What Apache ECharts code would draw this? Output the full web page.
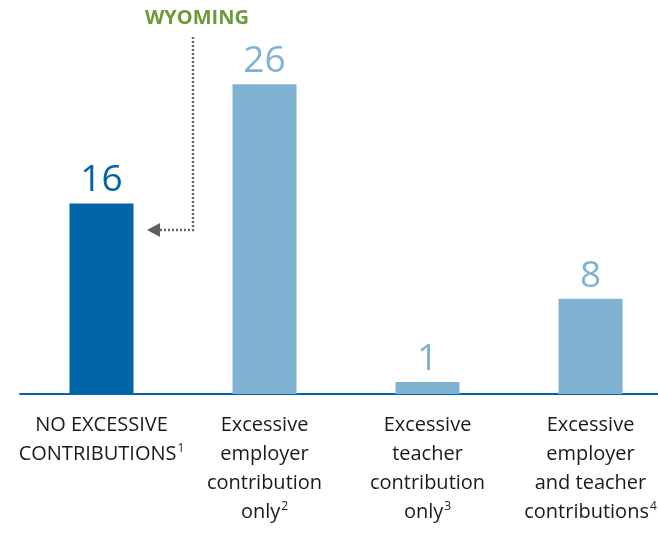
<!DOCTYPE html>
<html>
<head>
<meta charset="utf-8">
<style>
  html, body { margin: 0; padding: 0; background: #ffffff; }
  #chart { width: 658px; height: 536px; }
</style>
<script src="https://cdn.jsdelivr.net/npm/echarts@6/dist/echarts.min.js"></script>
</head>
<body>
<div id="chart"></div>
<script>
// Category lines (each label is wrapped onto several lines) and footnote marks
const categories = [
  ['NO EXCESSIVE', 'CONTRIBUTIONS'],
  ['Excessive', 'employer', 'contribution', 'only'],
  ['Excessive', 'teacher', 'contribution', 'only'],
  ['Excessive', 'employer', 'and teacher', 'contributions']
];
const footnotes = ['1', '2', '3', '4'];
const counts = [16, 26, 1, 8];
const highlighted = [true, false, false, false];

const DARK = '#0065a6';
const LIGHT = '#80b3d3';
const FONT = '"Open Sans", "Noto Sans", sans-serif';

const chart = echarts.init(document.getElementById('chart'), null, { renderer: 'canvas' });

const catKeys = categories.map((lines, i) => 'c' + i);

chart.setOption({
  animation: false,
  grid: { left: 20, width: 652, top: 36.6, bottom: 142, outerBoundsMode: 'none', containLabel: false },
  xAxis: {
    type: 'category',
    data: catKeys,
    boundaryGap: true,
    axisLine: { show: true, lineStyle: { color: '#0a64a4', width: 2 } },
    axisTick: { show: false },
    axisLabel: {
      interval: 0,
      margin: 17,
      color: '#1a1a1a',
      fontFamily: FONT,
      fontSize: 20,
      lineHeight: 29,
      formatter: function (val) {
        const i = catKeys.indexOf(val);
        const lines = categories[i].slice();
        const last = lines.pop();
        const head = lines.map(l => '{t|' + l + '}').join('\n');
        return (head ? head + '\n' : '') + '{t|' + last + '}{s|' + footnotes[i] + '}';
      },
      rich: {
        t: { fontSize: 20, lineHeight: 29, color: '#1a1a1a', fontFamily: FONT },
        s: { fontSize: 12, lineHeight: 29, color: '#1a1a1a', fontFamily: FONT, verticalAlign: 'top', padding: [3, 0, 0, 1] }
      }
    },
    splitLine: { show: false }
  },
  yAxis: {
    type: 'value',
    min: 0,
    max: 30,
    show: false,
    splitLine: { show: false }
  },
  series: [{
    type: 'bar',
    barWidth: 64,
    data: counts.map((v, i) => ({
      value: v,
      itemStyle: { color: highlighted[i] ? DARK : LIGHT },
      label: { color: highlighted[i] ? DARK : LIGHT }
    })),
    label: {
      show: true,
      position: 'top',
      distance: 4,
      fontSize: 37,
      fontFamily: FONT,
      fontWeight: 'normal'
    }
  }],
  graphic: [
    {
      type: 'text',
      left: 145,
      top: 8,
      style: {
        text: 'WYOMING',
        fill: '#6b9a3b',
        font: 'bold 20px ' + FONT
      }
    },
    {
      type: 'polyline',
      shape: { points: [[193, 37], [193, 230], [160, 230]] },
      style: { stroke: '#666666', lineWidth: 2.5, lineDash: [2, 2], fill: null }
    },
    {
      type: 'polygon',
      shape: { points: [[147, 230], [160, 223], [160, 237]] },
      style: { fill: '#5f5f5f' }
    }
  ]
});
</script>
</body>
</html>
